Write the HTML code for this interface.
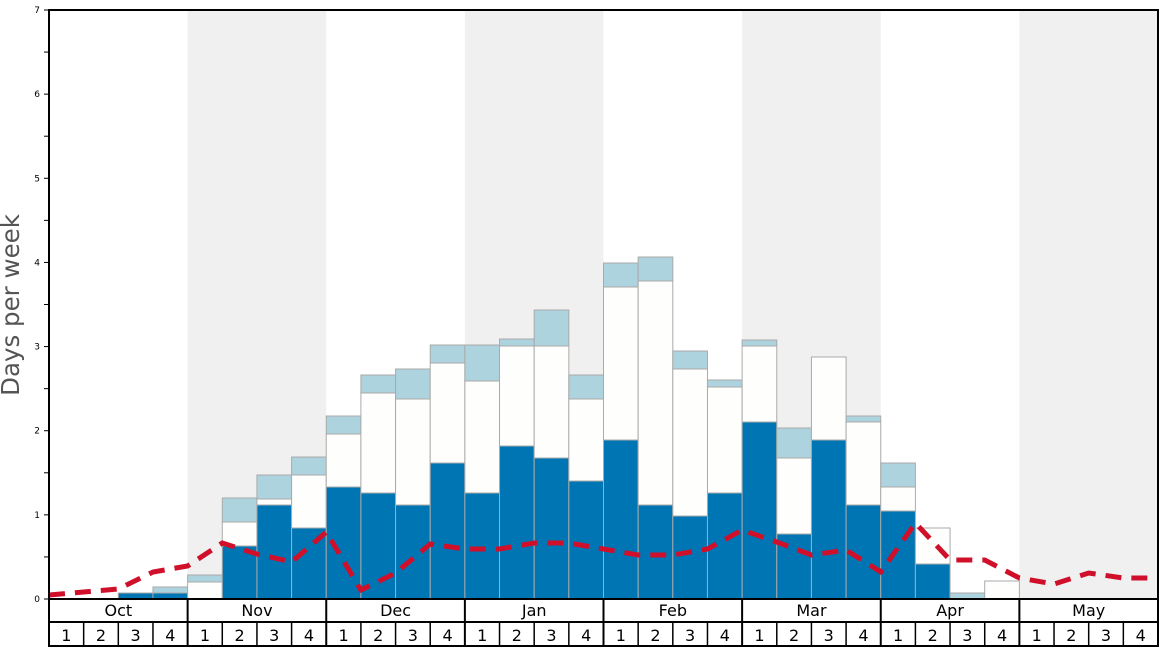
<!DOCTYPE html>
<html><head><meta charset="utf-8"><style>
html,body{margin:0;padding:0;background:#fff;width:1168px;height:648px;overflow:hidden}
svg{display:block;font-family:"DejaVu Sans","Liberation Sans",sans-serif}
</style></head><body>
<svg id="c" width="1168" height="648" xmlns="http://www.w3.org/2000/svg"></svg>
<script>
const X0=49,X1=1158,Y0=599,Y7=10,W=(X1-X0)/32;
let s='';
const months=['Oct','Nov','Dec','Jan','Feb','Mar','Apr','May'];
for(let m=0;m<8;m++){if(m%2==1)s+=`<rect x="${X0+m*4*W}" y="${Y7}" width="${4*W}" height="${Y0-Y7}" fill="#f0f0f0"/>`;}
const B=[[null,null,null],[null,null,null],[593,593,593],[593,593,587],
[599,582,575],[546,522,498],[505,499,475],[528,475,457],
[487,434,416],[493,393,375],[505,399,369],[463,363,345],
[493,381,345],[446,346,339],[458,346,310],[481,399,375],
[440,287,263],[505,281,257],[516,369,351],[493,387,380],
[422,346,340],[534,458,428],[440,357,357],[505,422,416],
[511,487,463],[564,528,528],[599,599,593],[599,581,581],
[null,null,null],[null,null,null],[null,null,null],[null,null,null]];
B.forEach((b,i)=>{if(b[0]===null)return;const x=X0+i*W;
 if(b[2]<b[1])s+=`<rect x="${x}" y="${b[2]}" width="${W}" height="${b[1]-b[2]}" fill="#add3df" stroke="#aaa" stroke-width="1"/>`;
 if(b[1]<b[0])s+=`<rect x="${x}" y="${b[1]}" width="${W}" height="${b[0]-b[1]}" fill="#fefefc" stroke="#aaa" stroke-width="1"/>`;
 if(b[0]<Y0)s+=`<rect x="${x}" y="${b[0]}" width="${W}" height="${Y0-b[0]}" fill="#0075b4" stroke="#aaa" stroke-width="1"/>`;
});
const R=[595,592,589,572,566,543,554,562,532,590,573,544,549,549,543,543,549,555,555,549,530,542,555,550,572,523,560,560,578,584,573,578,578];
s+=`<polyline fill="none" stroke="#d0102a" stroke-width="5" stroke-dasharray="16,10" points="${R.map((y,k)=>(X0+k*W).toFixed(1)+','+y).join(' ')}"/>`;
s+=`<rect x="${X0}" y="${Y7}" width="${X1-X0}" height="${Y0-Y7}" fill="none" stroke="#000" stroke-width="2"/>`;
const U=(Y0-Y7)/7;
for(let i=0;i<=14;i++){const y=Y0-i*U/2;s+=`<line x1="${X0-5}" x2="${X0}" y1="${y}" y2="${y}" stroke="#000" stroke-width="1"/>`;
 if(i%2==0)s+=`<text x="${X0-9}" y="${y+3}" font-size="9" text-anchor="end">${i/2}</text>`;}
s+=`<text transform="translate(19,305) rotate(-90)" font-size="24.5" fill="#555" text-anchor="middle">Days per week</text>`;
s+=`<rect x="${X0}" y="${Y0}" width="${X1-X0}" height="47" fill="#fff" stroke="#000" stroke-width="2"/>`;
s+=`<line x1="${X0}" x2="${X1}" y1="622" y2="622" stroke="#000" stroke-width="2"/>`;
for(let m=0;m<8;m++){const x=X0+m*4*W;if(m>0)s+=`<line x1="${x}" x2="${x}" y1="${Y0}" y2="646" stroke="#000" stroke-width="2"/>`;
 s+=`<text x="${x+2*W}" y="616" font-size="16" text-anchor="middle">${months[m]}</text>`;
 for(let w=0;w<4;w++){const xx=x+w*W;if(w>0)s+=`<line x1="${xx}" x2="${xx}" y1="622" y2="646" stroke="#000" stroke-width="1.5"/>`;
  s+=`<text x="${xx+W/2}" y="641" font-size="16" text-anchor="middle">${w+1}</text>`;}}
document.getElementById('c').innerHTML=s;
</script>
</body></html>
